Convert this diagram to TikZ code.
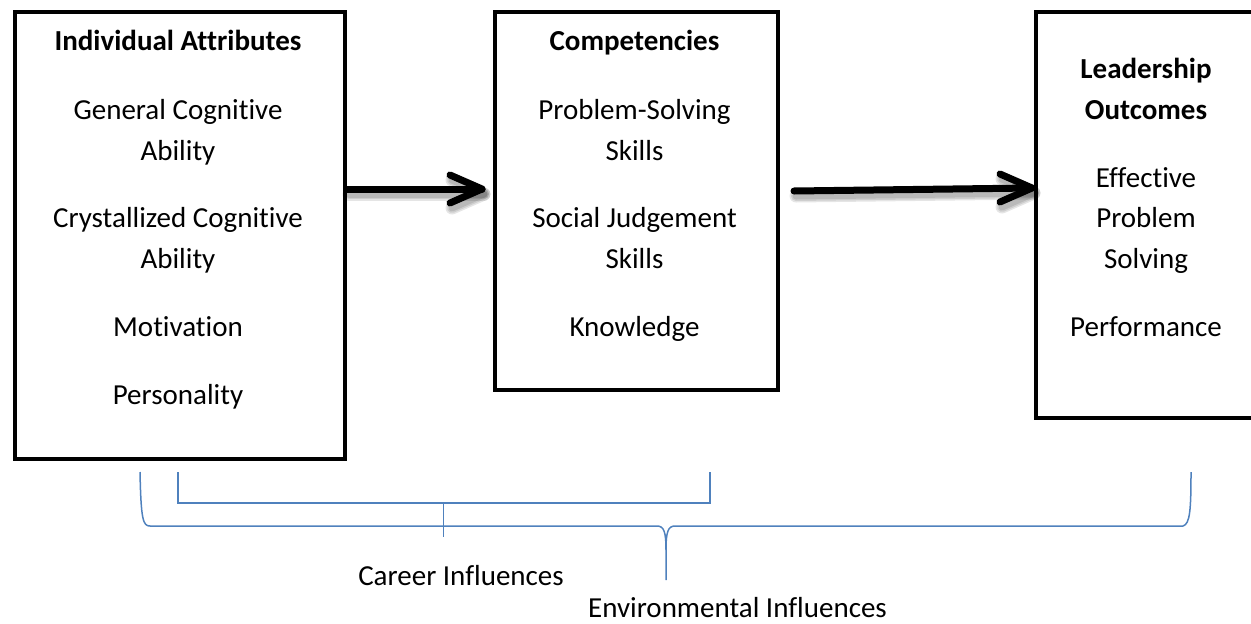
\documentclass[tikz,border=0pt]{standalone}
\usepackage{fontspec}
\setmainfont{Carlito}[Ligatures=NoCommon]
\definecolor{bracecol}{HTML}{4F81BD}
\begin{document}
\begin{tikzpicture}[x=1pt,y=-1pt,
  box/.style={draw=black, line width=4pt, anchor=north west, inner sep=0pt},
  txt/.style={anchor=base, inner sep=0pt, font=\fontsize{29}{41}\selectfont},
  head/.style={anchor=base, inner sep=0pt, font=\fontsize{29}{41}\selectfont\bfseries},
  arrowline/.style={draw=black, line width=7pt, line cap=round, line join=round},
  arrowshadow/.style={draw=black, line width=#1, opacity=0.10, line cap=round, line join=round},
  bracket/.style={draw=bracecol, line width=1.5pt}]
\useasboundingbox (0,0) rectangle (1251,624);
\clip (0,0) rectangle (1251,624);

% the three boxes
\node[box, minimum width=330pt, minimum height=447pt] (attr) at (13,10) {};
\node[box, minimum width=283pt, minimum height=378pt] (comp) at (493,10) {};
\node[box, minimum width=224pt, minimum height=406pt] (outc) at (1034,10) {};

% box texts
\node[head] (attrhead) at (178,50) {Individual Attributes};
\node[txt] (gca1) at (178,119.5) {General Cognitive};
\node[txt] (gca2) at (178,160) {Ability};
\node[txt] (cca1) at (178,227) {Crystallized Cognitive};
\node[txt] (cca2) at (178,268) {Ability};
\node[txt] (motiv) at (178,336.5) {Motivation};
\node[txt] (perso) at (178,404) {Personality};

\node[head] (comphead) at (634.5,50) {Competencies};
\node[txt] (pss1) at (634.5,119.5) {Problem-Solving};
\node[txt] (pss2) at (634.5,160) {Skills};
\node[txt] (sjs1) at (634.5,227) {Social Judgement};
\node[txt] (sjs2) at (634.5,268) {Skills};
\node[txt] (knowl) at (634.5,336.5) {Knowledge};

\node[head] (outhead1) at (1146,78) {Leadership};
\node[head] (outhead2) at (1146,119) {Outcomes};
\node[txt] (eps1) at (1146,187) {Effective};
\node[txt] (eps2) at (1146,227) {Problem};
\node[txt] (eps3) at (1146,268) {Solving};
\node[txt] (perf) at (1146,336.5) {Performance};

% arrow end points
\coordinate (s1) at ([yshift=-179pt]attr.north east);
\coordinate (t1) at ([xshift=-11pt,yshift=-179pt]comp.north west);
\coordinate (s2) at ([xshift=14pt,yshift=-181pt]comp.north east);
\coordinate (t2) at ([xshift=-2pt,yshift=-178pt]outc.north west);

% soft shadows under the arrows
\foreach \w in {13pt,10pt,7pt} {
  \draw[arrowshadow=\w] ([shift={(2,5)}]s1) -- ([shift={(2,5)}]t1);
  \draw[arrowshadow=\w] ([shift={(-30,-9)}]t1) -- ([shift={(2,5)}]t1) -- ([shift={(-30,19)}]t1);
  \draw[arrowshadow=\w] ([shift={(2,5)}]s2) -- ([shift={(2,5)}]t2);
  \draw[arrowshadow=\w] ([shift={(-30,-9)}]t2) -- ([shift={(2,5)}]t2) -- ([shift={(-30,19)}]t2);
}

% arrows with open chevron heads
\draw[arrowline] (s1) -- (t1);
\draw[arrowline] ([shift={(-32,-14)}]t1) -- (t1) -- ([shift={(-32,14)}]t1);
\draw[arrowline] (s2) -- (t2);
\draw[arrowline] ([shift={(-32,-14)}]t2) -- (t2) -- ([shift={(-32,14)}]t2);

% career bracket
\draw[bracket] (178,472) -- (178,503) -- (710,503) -- (710,472);
\draw[bracket] (443.5,503) -- (443.5,537);

% environmental brace
\draw[bracket] (140,472) .. controls (141,520) and (143,526) .. (150,526)
  -- (657,526) .. controls (664,526) and (666,532) .. (666,550) -- (666,580);
\draw[bracket] (666,550) .. controls (666,532) and (668,526) .. (675,526)
  -- (1183,526) .. controls (1190,524) and (1191,510) .. (1191,472);

% bracket labels
\node[txt] (career) at (461,585) {Career Influences};
\node[txt] (environ) at (737.5,617) {Environmental Influences};
\end{tikzpicture}
\end{document}
